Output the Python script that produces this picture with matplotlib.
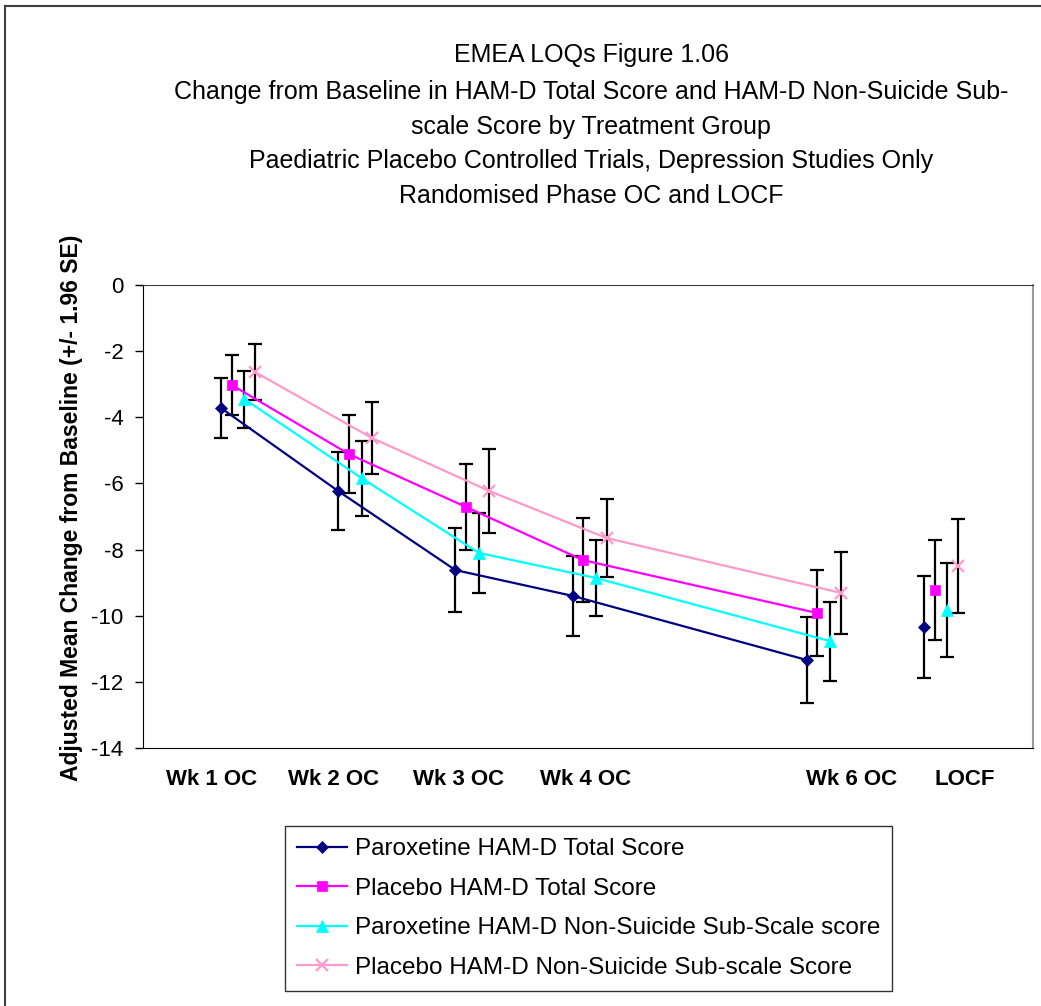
import numpy as np
import matplotlib
matplotlib.use("Agg")
import matplotlib.pyplot as plt
from matplotlib.lines import Line2D

plt.rcParams['font.family'] = ['Liberation Sans', 'DejaVu Sans']
plt.rcParams['axes.unicode_minus'] = False

# Data -------------------------------------------------------------------------------
weeks = [1, 2, 3, 4, 6]
locf_x = 7
tick_labels = ['Wk 1 OC', 'Wk 2 OC', 'Wk 3 OC', 'Wk 4 OC', 'Wk 6 OC', 'LOCF']
tick_pos = [0.92, 1.96, 3.03, 4.11, 6.38, 7.35]

# adjusted mean change, last value is LOCF
parox_total = [-3.72, -6.23, -8.62, -9.40, -11.34, -10.34]
placebo_total = [-3.02, -5.11, -6.71, -8.32, -9.92, -9.22]
parox_sub = [-3.45, -5.84, -8.10, -8.86, -10.77, -9.83]
placebo_sub = [-2.63, -4.63, -6.23, -7.65, -9.31, -8.50]

# 1.96 SE half widths
parox_total_ci = [0.91, 1.18, 1.26, 1.20, 1.29, 1.53]
placebo_total_ci = [0.90, 1.17, 1.30, 1.26, 1.30, 1.51]
parox_sub_ci = [0.86, 1.13, 1.20, 1.14, 1.19, 1.42]
placebo_sub_ci = [0.84, 1.10, 1.26, 1.17, 1.23, 1.42]

names = ['Paroxetine HAM-D Total Score',
         'Placebo HAM-D Total Score',
         'Paroxetine HAM-D Non-Suicide Sub-Scale score',
         'Placebo HAM-D Non-Suicide Sub-scale Score']

title_lines = ['EMEA LOQs Figure 1.06',
               'Change from Baseline in HAM-D Total Score and HAM-D Non-Suicide Sub-',
               'scale Score by Treatment Group',
               'Paediatric Placebo Controlled Trials, Depression Studies Only',
               'Randomised Phase OC and LOCF']

# Plot --------------------------------------------------------------------------------
fig = plt.figure(figsize=(10.41, 10.06), dpi=100)
ax = fig.add_axes([143 / 1041, 1 - 748 / 1006, 890 / 1041, 463 / 1006])

series = [parox_total, placebo_total, parox_sub, placebo_sub]
cis = [parox_total_ci, placebo_total_ci, parox_sub_ci, placebo_sub_ci]
colors = ['#000080', '#FF00FF', '#00FFFF', '#FF99CC']
markers = ['D', 's', '^', 'x']
sizes = [6, 7.5, 9, 9]
offsets = [0, 0.09, 0.2, 0.29]

handles = []
for vals, ci, col, mk, ms, off, name in zip(series, cis, colors, markers, sizes, offsets, names):
    x = np.array(weeks + [locf_x]) + off
    ax.errorbar(x, vals, yerr=ci, fmt='none', ecolor='black', elinewidth=1.6,
                capsize=5, capthick=1.6, zorder=2)
    h, = ax.plot(x[:-1], vals[:-1], color=col, lw=1.6, marker=mk, ms=ms,
                 mew=1.6 if mk == 'x' else 0.5, mec=col, zorder=3, label=name)
    ax.plot(x[-1:], vals[-1:], linestyle='none', color=col, marker=mk, ms=ms,
            mew=1.6 if mk == 'x' else 0.5, mec=col, zorder=3)
    handles.append(h)

ax.set_xlim(0.334, 7.93)
ax.set_ylim(-14, 0)
ax.set_yticks(np.arange(-14, 1, 2))
ax.tick_params(axis='y', direction='out', length=6, width=1, labelsize=16, pad=8)
ax.set_xticks(tick_pos)
ax.set_xticklabels(tick_labels, fontsize=16, fontweight='bold')
ax.tick_params(axis='x', length=0, pad=15)
ax.spines['top'].set_color('#404040')
ax.spines['right'].set_color('#999999')
ax.spines['right'].set_linewidth(1.5)

fig.text(72 / 1041, 1 - 508 / 1006, 'Adjusted Mean Change from Baseline (+/- 1.96 SE)',
         rotation=90, ha='center', va='center', fontsize=16.5, fontweight='bold')

for line, yc in zip(title_lines, [55, 92, 127, 161, 196]):
    fig.text(591 / 1041, 1 - yc / 1006, line, ha='center', va='center', fontsize=18)

leg = fig.legend(handles=handles, loc='upper left',
                 bbox_to_anchor=(285 / 1041, 1 - 826 / 1006), fontsize=17.5,
                 frameon=True, fancybox=False, edgecolor='black', numpoints=1,
                 handlelength=2.06, labelspacing=0.72, borderpad=0.5,
                 handletextpad=0.3, borderaxespad=0)
leg.get_frame().set_linewidth(1)

# outer border of the picture
fig.add_artist(Line2D([5 / 1041, 5 / 1041], [0, 1 - 6 / 1006], color='#404040', lw=1.5))
fig.add_artist(Line2D([5 / 1041, 1], [1 - 6 / 1006, 1 - 6 / 1006], color='#404040', lw=1.5))

fig.savefig('out.png', dpi=100)
